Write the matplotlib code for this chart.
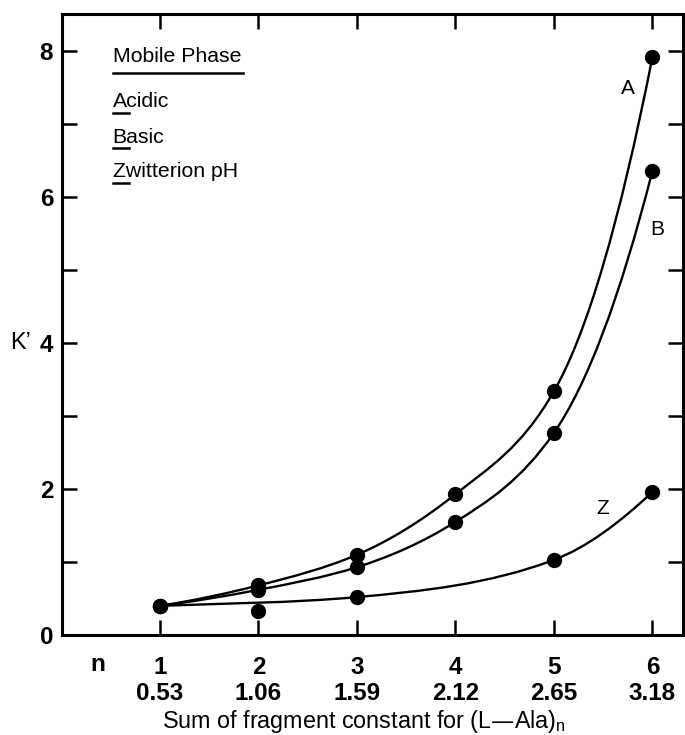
import numpy as np
import matplotlib
matplotlib.use('Agg')
from matplotlib import pyplot as plt
from matplotlib.path import Path
from matplotlib.patches import PathPatch

plt.rcParams['font.family'] = ['Liberation Sans', 'DejaVu Sans']

n_values = [1, 2, 3, 4, 5, 6]
fragment_sums = ['0.53', '1.06', '1.59', '2.12', '2.65', '3.18']

acidic = [0.40, 0.68, 1.10, 1.93, 3.34, 7.92]
basic = [0.40, 0.62, 0.93, 1.55, 2.77, 6.36]

# zwitterion: no point at n=4, and the n=2 point lies off the drawn curve
z_n = [1, 2, 3, 5, 6]
zwitterion = [0.40, 0.33, 0.52, 1.03, 1.96]
z_on_curve = [True, False, True, True, True]


def smooth_path(xs, ys):
    # cubic Bezier through the knots, tangents estimated in log space
    xs = np.asarray(xs, float)
    ys = np.asarray(ys, float)
    d = np.diff(np.log(ys)) / np.diff(xs)
    m = np.empty_like(ys)
    m[0], m[-1] = d[0], d[-1]
    m[1:-1] = (d[:-1] + d[1:]) / 2
    m = m * ys
    verts = [(xs[0], ys[0])]
    codes = [Path.MOVETO]
    for i in range(len(xs) - 1):
        h = xs[i + 1] - xs[i]
        verts += [(xs[i] + h / 3, ys[i] + m[i] * h / 3),
                  (xs[i + 1] - h / 3, ys[i + 1] - m[i + 1] * h / 3),
                  (xs[i + 1], ys[i + 1])]
        codes += [Path.CURVE4] * 3
    return Path(verts, codes)


fig = plt.figure(figsize=(6.85, 7.35), dpi=100)
ax = fig.add_axes([0.0898, 0.136, 0.9072, 0.845])

curves = [
    (n_values, acidic, n_values, acidic),
    (n_values, basic, n_values, basic),
    (z_n, zwitterion,
     [x for x, ok in zip(z_n, z_on_curve) if ok],
     [y for y, ok in zip(zwitterion, z_on_curve) if ok]),
]
for px, py, cx, cy in curves:
    ax.add_patch(PathPatch(smooth_path(cx, cy), facecolor='none',
                           edgecolor='black', lw=1.7))
    ax.plot(px, py, 'o', color='black', markersize=10)

ax.set_xlim(0, 6.31)
ax.set_ylim(0, 8.51)

ax.set_xticks(n_values)
ax.set_xticklabels([f'{n}\n{s}' for n, s in zip(n_values, fragment_sums)],
                   fontsize=17.5, fontweight='bold', linespacing=1.2)
ax.set_yticks(range(0, 9))
ax.set_yticklabels([str(v) if v % 2 == 0 else '' for v in range(0, 9)],
                   fontsize=17.5, fontweight='bold')
ax.tick_params(direction='in', length=11, width=1.8, top=True, right=True)
ax.tick_params(axis='x', pad=15)
ax.tick_params(axis='y', pad=6)
for sp in ax.spines.values():
    sp.set_linewidth(2.2)

ax.text(0.37, -0.41, 'n', fontsize=17.5, fontweight='bold',
        ha='center', va='center', clip_on=False)
ax.text(-0.42, 4.0, 'K\u2019', fontsize=17, ha='center', va='center',
        clip_on=False)
ax.set_xlabel('Sum of fragment constant for (L\u2014Ala)$_\\mathregular{n}$',
              fontsize=16.8)
ax.xaxis.set_label_coords(0.487, -0.118)

# curve labels
ax.text(5.75, 7.49, 'A', fontsize=15, ha='center', va='center')
ax.text(6.05, 5.55, 'B', fontsize=15, ha='center', va='center')
ax.text(5.5, 1.74, 'Z', fontsize=15, ha='center', va='center')

# legend block
ax.text(0.52, 7.85, 'Mobile Phase', fontsize=15.3, va='baseline')
ax.plot([0.52, 1.84], [7.70, 7.70], color='black', lw=1.8)
for label, yb, yu in [('Acidic', 7.23, 7.15), ('Basic', 6.74, 6.67),
                      ('Zwitterion pH', 6.27, 6.20)]:
    ax.text(0.52, yb, label, fontsize=15.3, va='baseline')
    ax.plot([0.52, 0.69], [yu, yu], color='black', lw=1.8)

fig.savefig('out.png', dpi=100)
